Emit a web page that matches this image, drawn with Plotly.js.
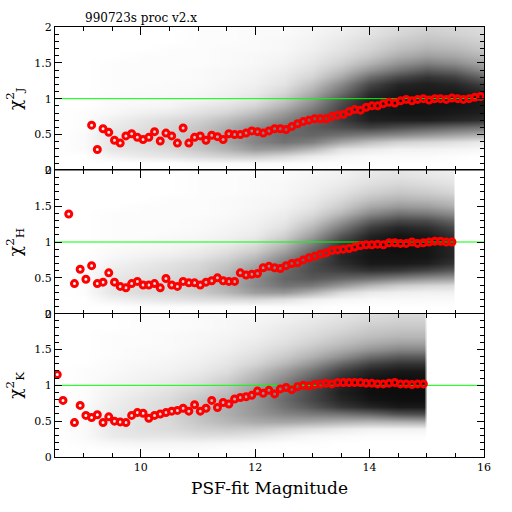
<!DOCTYPE html>
<html>
<head>
<meta charset="utf-8">
<script src="https://cdn.plot.ly/plotly-3.0.1.min.js"></script>
<style>html,body{margin:0;padding:0;background:#fff;}#chart{width:512px;height:512px;}</style>
</head>
<body>
<div id="chart"></div>
<script>
// ---------- binned median chi^2 (red markers) ----------
const jMag = [9.14,9.24,9.34,9.44,9.54,9.64,9.74,9.84,9.94,10.04,10.14,10.24,10.34,10.44,10.54,10.64,10.74,10.84,10.94,11.04,11.14,11.24,11.34,11.44,11.54,11.64,11.74,11.84,11.94,12.04,12.14,12.24,12.34,12.44,12.54,12.64,12.74,12.84,12.94,13.04,13.14,13.24,13.34,13.44,13.54,13.64,13.74,13.84,13.94,14.04,14.14,14.24,14.34,14.44,14.54,14.64,14.74,14.84,14.94,15.04,15.14,15.24,15.34,15.44,15.54,15.64,15.74,15.84,15.94];
const jChi = [0.63,0.29,0.58,0.53,0.42,0.38,0.48,0.51,0.46,0.43,0.46,0.54,0.41,0.52,0.48,0.38,0.59,0.38,0.46,0.48,0.42,0.49,0.47,0.43,0.51,0.50,0.50,0.52,0.55,0.54,0.52,0.55,0.58,0.58,0.57,0.61,0.65,0.68,0.70,0.72,0.72,0.72,0.75,0.77,0.78,0.82,0.85,0.84,0.88,0.90,0.90,0.93,0.95,0.94,0.97,0.99,0.97,0.99,1.00,0.98,1.00,1.00,0.99,1.01,1.00,0.99,1.00,1.02,1.03];

const hMag = [8.74,8.84,8.94,9.04,9.14,9.24,9.34,9.44,9.54,9.64,9.74,9.84,9.94,10.04,10.14,10.24,10.34,10.44,10.54,10.64,10.74,10.84,10.94,11.04,11.14,11.24,11.34,11.44,11.54,11.64,11.74,11.84,11.94,12.04,12.14,12.24,12.34,12.44,12.54,12.64,12.74,12.84,12.94,13.04,13.14,13.24,13.34,13.44,13.54,13.64,13.74,13.84,13.94,14.04,14.14,14.24,14.34,14.44,14.54,14.64,14.74,14.84,14.94,15.04,15.14,15.24,15.34,15.44];
const hChi = [1.39,0.42,0.62,0.48,0.67,0.42,0.44,0.57,0.44,0.38,0.36,0.42,0.45,0.40,0.40,0.42,0.36,0.49,0.40,0.38,0.45,0.43,0.43,0.40,0.44,0.46,0.50,0.46,0.45,0.45,0.57,0.54,0.55,0.56,0.64,0.66,0.64,0.63,0.67,0.70,0.71,0.75,0.78,0.80,0.83,0.85,0.88,0.89,0.90,0.91,0.93,0.95,0.96,0.96,0.97,0.96,0.99,0.99,0.98,0.98,1.00,0.98,0.99,1.00,1.01,1.01,1.00,1.00];

const kMag = [8.54,8.64,8.84,8.94,9.04,9.14,9.24,9.34,9.44,9.54,9.64,9.74,9.84,9.94,10.04,10.14,10.24,10.34,10.44,10.54,10.64,10.74,10.84,10.94,11.04,11.14,11.24,11.34,11.44,11.54,11.64,11.74,11.84,11.94,12.04,12.14,12.24,12.34,12.44,12.54,12.64,12.74,12.84,12.94,13.04,13.14,13.24,13.34,13.44,13.54,13.64,13.74,13.84,13.94,14.04,14.14,14.24,14.34,14.44,14.54,14.64,14.74,14.84,14.94];
const kChi = [1.15,0.79,0.48,0.72,0.58,0.55,0.59,0.48,0.56,0.50,0.49,0.48,0.58,0.62,0.61,0.54,0.58,0.60,0.62,0.64,0.65,0.68,0.64,0.73,0.64,0.68,0.79,0.69,0.76,0.74,0.81,0.83,0.84,0.86,0.92,0.89,0.93,0.88,0.95,0.97,0.94,0.98,1.00,0.99,1.01,1.02,1.03,1.02,1.04,1.04,1.04,1.04,1.04,1.03,1.03,1.02,1.02,1.03,1.04,1.02,1.02,1.01,1.02,1.02];

// ---------- density of individual stars (percent dark coverage) ----------
const gridChi = [0.0,0.1,0.2,0.3,0.4,0.5,0.6,0.7,0.8,0.9,1.0,1.1,1.2,1.3,1.4,1.5,1.6,1.7,1.8,1.9,2.0];

const jGridMag = [8.5,9,9.5,10,10.5,11,11.5,12,12.5,13,13.5,14,14.5,15,15.5,16];
const jDensity = [
 [0,0,0,0,0,0,0,0,0,0,0,0,0,0,0,0],
 [0,0,0,0,0,2,2,2,2,1,1,1,0,0,0,0],
 [0,0,5,8,10,14,18,20,15,8,4,2,2,2,1,0],
 [0,2,10,12,15,22,30,40,38,28,12,8,5,5,4,3],
 [0,2,10,14,18,25,36,48,55,50,35,25,18,15,12,8],
 [0,2,10,14,18,25,36,48,58,60,55,50,45,40,35,30],
 [0,1,8,12,16,22,32,44,55,64,70,75,70,65,60,55],
 [0,1,6,10,14,18,26,36,48,60,76,88,88,88,85,82],
 [0,1,3,6,8,12,17,26,40,56,76,90,92,92,90,88],
 [0,0,2,3,4,8,11,17,30,48,72,90,92,92,92,90],
 [0,0,2,2,3,4,7,11,22,40,66,88,92,92,92,90],
 [0,0,1,2,2,3,5,8,16,32,56,82,90,90,90,85],
 [0,0,1,1,2,2,4,6,11,24,46,72,85,88,85,75],
 [0,0,1,1,1,2,3,5,9,17,34,58,72,80,75,60],
 [0,0,1,1,1,2,3,4,7,13,25,42,55,65,60,45],
 [0,0,1,1,1,1,2,3,5,10,18,30,42,50,45,35],
 [0,0,0,1,1,1,2,3,4,8,14,22,32,38,35,28],
 [0,0,0,0,1,1,2,2,3,6,11,17,25,30,28,22],
 [0,0,0,0,0,1,1,2,3,5,9,14,20,24,22,18],
 [0,0,0,0,0,1,1,2,2,4,7,11,16,20,18,15],
 [0,0,0,0,0,1,1,2,2,4,6,10,14,17,16,14]
];

const hGridMag = [8.5,9,9.5,10,10.5,11,11.5,12,12.5,13,13.5,14,14.5,15,15.45,15.5,16];
const hDensity = [
 [0,0,0,0,0,0,0,0,0,0,0,0,0,0,0,0,0],
 [0,0,0,1,1,1,1,1,1,1,0,0,0,0,0,0,0],
 [0,0,5,8,10,12,14,15,12,6,3,2,2,2,2,0,0],
 [0,1,10,14,16,20,28,38,40,30,15,8,6,5,5,0,0],
 [0,1,10,14,16,22,32,45,55,52,40,28,20,16,14,0,0],
 [0,1,9,12,15,20,30,45,60,65,60,55,48,42,38,0,0],
 [0,1,7,10,13,17,26,40,58,70,75,80,78,72,65,0,0],
 [0,0,5,8,11,15,22,34,52,70,82,90,90,88,80,0,0],
 [0,0,3,5,7,10,16,26,44,65,85,92,92,92,85,0,0],
 [0,0,2,3,4,7,11,18,34,58,82,92,94,92,85,0,0],
 [0,0,1,2,3,4,7,12,25,48,76,90,94,92,85,0,0],
 [0,0,1,1,2,3,5,8,18,38,66,86,92,90,80,0,0],
 [0,0,1,1,1,2,4,6,12,28,52,76,85,82,72,0,0],
 [0,0,1,1,1,2,3,5,9,20,40,62,72,70,60,0,0],
 [0,0,1,1,1,1,2,4,7,14,28,46,55,52,45,0,0],
 [0,0,0,1,1,1,2,3,5,10,20,34,40,38,32,0,0],
 [0,0,0,0,1,1,2,3,4,8,15,25,30,28,24,0,0],
 [0,0,0,0,0,1,1,2,3,6,11,18,22,20,16,0,0],
 [0,0,0,0,0,1,1,2,3,5,8,13,16,14,11,0,0],
 [0,0,0,0,0,1,1,2,2,4,6,10,12,10,8,0,0],
 [0,0,0,0,0,1,1,1,2,3,5,8,10,8,6,0,0]
];

const kGridMag = [8.5,9,9.5,10,10.5,11,11.5,12,12.5,13,13.5,14,14.5,14.95,15.0,15.5,16];
const kDensity = [
 [0,0,0,0,0,0,0,0,0,0,0,0,0,0,0,0,0],
 [0,0,0,1,1,1,0,0,0,0,0,0,0,0,0,0,0],
 [0,1,3,4,4,4,3,2,1,1,0,0,0,0,0,0,0],
 [0,2,8,10,10,12,12,10,6,3,2,1,1,1,0,0,0],
 [0,2,9,12,14,18,20,20,16,12,8,5,5,5,0,0,0],
 [0,2,9,12,15,22,28,33,35,33,30,28,30,32,0,0,0],
 [0,2,8,12,16,24,32,40,48,52,55,60,68,70,0,0,0],
 [0,2,7,11,15,24,32,42,55,66,78,85,90,90,0,0,0],
 [0,1,6,10,14,22,30,42,58,72,85,92,94,94,0,0,0],
 [0,1,5,8,12,18,26,40,56,72,88,94,95,95,0,0,0],
 [0,1,4,6,9,14,22,36,52,70,86,94,95,95,0,0,0],
 [0,1,3,5,7,11,18,30,46,64,82,92,94,94,0,0,0],
 [0,1,2,4,5,8,13,24,38,54,74,86,90,90,0,0,0],
 [0,0,2,3,4,6,10,17,28,42,60,74,80,80,0,0,0],
 [0,0,1,2,3,5,8,13,21,31,44,58,65,65,0,0,0],
 [0,0,1,2,2,4,6,10,16,24,33,42,48,48,0,0,0],
 [0,0,1,1,2,3,5,8,12,18,25,32,36,36,0,0,0],
 [0,0,1,1,2,3,4,6,10,14,20,25,28,28,0,0,0],
 [0,0,0,1,1,2,3,5,8,11,15,20,22,22,0,0,0],
 [0,0,0,1,1,2,3,4,6,9,12,16,18,18,0,0,0],
 [0,0,0,1,1,2,2,3,5,7,10,13,15,15,0,0,0]
];

const magRange = [8.5, 16];
const chiRange = [0, 2];
const refLevel = 1;
const panelLabels = ['J', 'H', 'K'];
const titleText = '990723s proc v2.x';
const xTitle = 'PSF-fit Magnitude';

// ---------- build ----------
const FONT = 'DejaVu Serif, Liberation Serif, serif';
const panels = [
  {gx: jGridMag, dens: jDensity, mx: jMag, my: jChi, xa: 'x', ya: 'y'},
  {gx: hGridMag, dens: hDensity, mx: hMag, my: hChi, xa: 'x2', ya: 'y2'},
  {gx: kGridMag, dens: kDensity, mx: kMag, my: kChi, xa: 'x3', ya: 'y3'}
];
const traces = [];
panels.forEach(p => {
  traces.push({type: 'heatmap', x: p.gx, y: gridChi, z: p.dens, xaxis: p.xa, yaxis: p.ya,
    zmin: 0, zmax: 100, zsmooth: 'best', showscale: false, hoverinfo: 'skip',
    colorscale: [[0, '#ffffff'], [1, '#000000']]});
  traces.push({type: 'scatter', mode: 'lines', x: magRange, y: [refLevel, refLevel],
    xaxis: p.xa, yaxis: p.ya, line: {color: '#00ff00', width: 1}, hoverinfo: 'skip'});
  traces.push({type: 'scatter', mode: 'markers', x: p.mx, y: p.my, xaxis: p.xa, yaxis: p.ya,
    marker: {symbol: 'circle-open', size: 6, color: '#ff0000', line: {color: '#ff0000', width: 3}}});
});

function xAxis(anchor, labels) {
  return {range: magRange, anchor: anchor, showline: true, linecolor: '#000', linewidth: 1,
    mirror: 'allticks', ticks: 'inside', ticklen: 8, tickcolor: '#000', tick0: 0, dtick: 2,
    minor: {dtick: 0.5, ticklen: 4, ticks: 'inside', tickcolor: '#000'},
    showgrid: false, zeroline: false, showticklabels: labels,
    tickfont: {family: FONT, size: 11, color: '#000'}};
}
function yAxis(anchor, dom, lab) {
  return {range: chiRange, domain: dom, anchor: anchor, showline: true, linecolor: '#000', linewidth: 1,
    mirror: 'allticks', ticks: 'inside', ticklen: 7, tickcolor: '#000', tick0: 0, dtick: 0.5,
    minor: {dtick: 0.1, ticklen: 4, ticks: 'inside', tickcolor: '#000'},
    showgrid: false, zeroline: false, tickfont: {family: FONT, size: 11, color: '#000'},
    title: {text: 'χ<sup>2</sup><sub>' + lab + '</sub>', font: {family: FONT, size: 17, color: '#000'}, standoff: 8}};
}

const layout = {
  width: 512, height: 512,
  margin: {l: 55, r: 28, t: 27, b: 55},
  paper_bgcolor: '#fff', plot_bgcolor: '#fff', showlegend: false,
  xaxis: xAxis('y', false),
  xaxis2: xAxis('y2', false),
  xaxis3: Object.assign(xAxis('y3', true), {title: {text: xTitle, font: {family: FONT, size: 17, color: '#000'}, standoff: 8}}),
  yaxis: yAxis('x', [2/3, 1], panelLabels[0]),
  yaxis2: yAxis('x2', [1/3, 2/3], panelLabels[1]),
  yaxis3: yAxis('x3', [0, 1/3], panelLabels[2]),
  annotations: [{text: titleText, xref: 'paper', yref: 'paper', x: 0.065, y: 1, xanchor: 'left', yanchor: 'bottom',
    showarrow: false, font: {family: FONT, size: 12, color: '#000'}}]
};

Plotly.newPlot('chart', traces, layout, {staticPlot: true, displayModeBar: false});
</script>
</body>
</html>
